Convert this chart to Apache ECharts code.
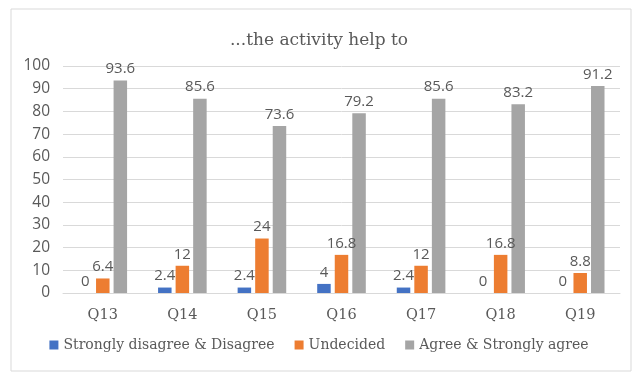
<!DOCTYPE html>
<html>
<head>
<meta charset="utf-8">
<script src="https://cdn.jsdelivr.net/npm/echarts@6/dist/echarts.min.js"></script>
<style>
  html, body { margin: 0; padding: 0; background: #fff; }
  #chart { width: 638px; height: 372px; }
</style>
</head>
<body>
<div id="chart"></div>
<script>
var questions = ["Q13", "Q14", "Q15", "Q16", "Q17", "Q18", "Q19"];
var disagree = [0, 2.4, 2.4, 4, 2.4, 0, 0];
var undecided = [6.4, 12, 24, 16.8, 12, 16.8, 8.8];
var agree = [93.6, 85.6, 73.6, 79.2, 85.6, 83.2, 91.2];
var seriesNames = ["Strongly disagree & Disagree", "Undecided", "Agree & Strongly agree"];

var serif = "'DejaVu Serif', 'Liberation Serif', serif";
var sans = "'Open Sans', 'Liberation Sans', sans-serif";

function bar(name, data, color) {
  return {
    name: name,
    type: "bar",
    data: data,
    barWidth: 13.5,
    barGap: "30%",
    itemStyle: { color: color },
    label: {
      show: true,
      position: "top",
      distance: 4,
      color: "#595959",
      fontSize: 15,
      fontFamily: sans
    }
  };
}

var chart = echarts.init(document.getElementById("chart"));
chart.setOption({
  animation: false,
  title: {
    text: "...the activity help to",
    left: "center",
    top: 27,
    textStyle: { color: "#595959", fontSize: 17, fontWeight: "normal", fontFamily: serif }
  },
  legend: {
    data: seriesNames,
    bottom: 15,
    left: "center",
    icon: "rect",
    itemWidth: 9,
    itemHeight: 9,
    itemGap: 20,
    textStyle: { color: "#595959", fontSize: 14, fontFamily: serif }
  },
  grid: { left: 63, right: 18, top: 66, bottom: 79 },
  xAxis: {
    type: "category",
    data: questions,
    axisTick: { show: false },
    axisLine: { lineStyle: { color: "#d9d9d9", width: 1 } },
    axisLabel: { color: "#595959", fontSize: 14.5, fontFamily: serif, margin: 15 }
  },
  yAxis: {
    type: "value",
    min: 0,
    max: 100,
    interval: 10,
    axisLine: { show: false },
    axisTick: { show: false },
    splitLine: { lineStyle: { color: "#d9d9d9", width: 1 } },
    axisLabel: { color: "#595959", fontSize: 15.5, fontFamily: sans, margin: 13 }
  },
  graphic: [{
    type: "rect",
    shape: { x: 11, y: 9, width: 620, height: 362 },
    style: { fill: "none", stroke: "#d9d9d9", lineWidth: 1 },
    silent: true
  }],
  series: [
    bar(seriesNames[0], disagree, "#4472C4"),
    bar(seriesNames[1], undecided, "#ED7D31"),
    bar(seriesNames[2], agree, "#A5A5A5")
  ]
});
</script>
</body>
</html>
